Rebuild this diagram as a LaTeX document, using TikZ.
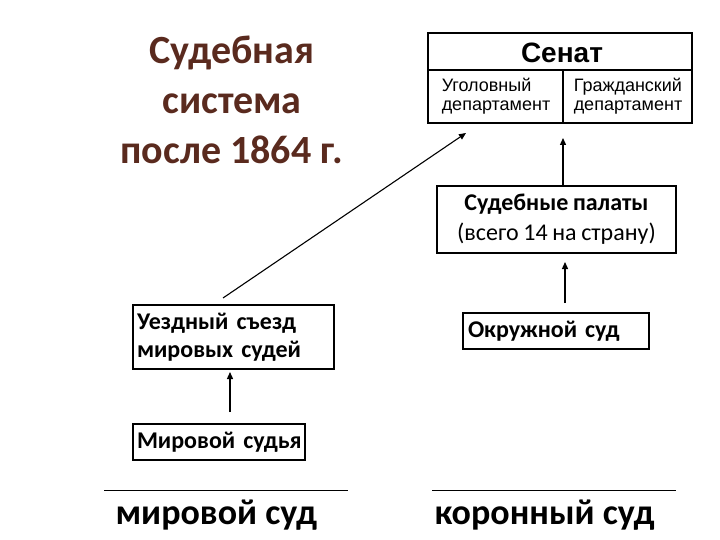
\documentclass[tikz,border=0pt]{standalone}
\usepackage{fontspec}
\setmainfont{Carlito}
\newfontfamily\boxfont{Carlito}[WordSpace=0.85]
\newfontfamily\arialf{Liberation Sans}
\usetikzlibrary{arrows.meta}
\definecolor{titlebrown}{HTML}{5A2A1E}
\tikzset{
  box/.style={draw, line width=1.1pt, inner sep=0pt, font=\boxfont\bfseries\fontsize{24}{28}\selectfont},
  arr/.style={-{Triangle[length=7pt,width=6pt]}, line width=1.3pt},
  sublbl/.style={font=\arialf\fontsize{18}{19}\selectfont, align=left},
  base/.style={font=\bfseries\fontsize{36}{40}\selectfont},
}
\begin{document}
\begin{tikzpicture}[x=1pt,y=-1pt]
\useasboundingbox (0,0) rectangle (720,540);
% title
\node[font=\bfseries\fontsize{40}{50}\selectfont, text=titlebrown, align=center] (title) at (232,100) {Судебная\\система\\после 1864 г.};
% Senat
\node[draw, line width=1.4pt, minimum width=264pt, minimum height=90pt, inner sep=0pt] (senat) at (560,78) {};
\node[font=\arialf\bfseries\fontsize{28}{30}\selectfont] (senatlbl) at (562,53) {Сенат};
\coordinate (hl) at (428,70); \coordinate (hr) at (692,70);
\coordinate (vt) at (563,70); \coordinate (vb) at (563,123);
\draw[line width=1.2pt] (hl) -- (hr);
\draw[line width=1.2pt] (vt) -- (vb);
\node[sublbl] (crim) at (496,96) {Уголовный\\департамент};
\node[sublbl] (civ) at (628,96) {Гражданский\\департамент};
% palaty
\node[box, minimum width=239pt, minimum height=67pt, align=center, font=\boxfont\fontsize{24}{30}\selectfont] (pal) at (556.5,219.5) {\textbf{Судебные палаты}\\(всего 14 на страну)};
% okruzhnoy
\node[box, minimum width=186pt, minimum height=36pt, text width=176pt, align=left] (okr) at (556,331) {Окружной~суд};
% uezdny
\node[box, minimum width=201pt, minimum height=64pt, text width=193pt, align=left] (uezd) at (233.5,337) {Уездный~съезд\\мировых~судей};
% mirovoy sudya
\node[box, minimum width=172pt, minimum height=36pt, text width=164pt, align=left] (mir) at (219,442) {Мировой~судья};
% arrows
\coordinate (a1s) at (563,186); \coordinate (a1e) at (563,138);
\coordinate (a2s) at (565,303); \coordinate (a2e) at (565,262);
\coordinate (a3s) at (230,412); \coordinate (a3e) at (230,372);
\coordinate (a4s) at (223,298); \coordinate (a4e) at (466,133);
\draw[arr] (a1s) -- (a1e);
\draw[arr] (a2s) -- (a2e);
\draw[arr] (a3s) -- (a3e);
\draw[arr, line width=1.1pt] (a4s) -- (a4e);
% baselines
\coordinate (l1a) at (104,490); \coordinate (l1b) at (348,490);
\coordinate (l2a) at (432,490); \coordinate (l2b) at (676,490);
\draw[line width=0.9pt] (l1a) -- (l1b);
\draw[line width=0.9pt] (l2a) -- (l2b);
\node[base, anchor=base west] (mirsud) at (112,524) {мировой суд};
\node[base, anchor=base west] (korsud) at (431,524) {коронный суд};
\end{tikzpicture}
\end{document}
